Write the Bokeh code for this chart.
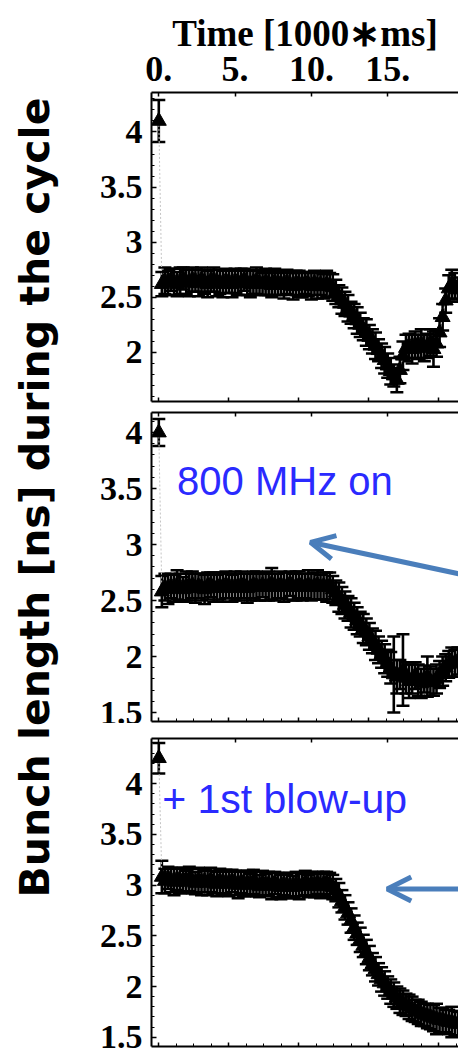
import math
from bokeh.plotting import figure
from bokeh.layouts import row, column
from bokeh.models import (ColumnDataSource, Range1d, LinearAxis, FixedTicker,
                          CustomJSTickFormatter, Whisker, TeeHead, Arrow, OpenHead, Label)
from bokeh.embed import file_html
from bokeh.resources import INLINE

# ---------------- data ----------------
time_s = [0.0,
          0.2, 0.4, 0.6, 0.8, 1.0, 1.2, 1.4, 1.6, 1.8, 2.0,
          2.2, 2.4, 2.6, 2.8, 3.0, 3.2, 3.4, 3.6, 3.8, 4.0,
          4.2, 4.4, 4.6, 4.8, 5.0, 5.2, 5.4, 5.6, 5.8, 6.0,
          6.2, 6.4, 6.6, 6.8, 7.0, 7.2, 7.4, 7.6, 7.8, 8.0,
          8.2, 8.4, 8.6, 8.8, 9.0, 9.2, 9.4, 9.6, 9.8, 10.0,
          10.2, 10.4, 10.6, 10.8, 11.0, 11.2, 11.4, 11.6, 11.8, 12.0,
          12.2, 12.4, 12.6, 12.8, 13.0, 13.2, 13.4, 13.6, 13.8, 14.0,
          14.2, 14.4, 14.6, 14.8, 15.0, 15.2, 15.4, 15.6, 15.8, 16.0,
          16.2, 16.4, 16.6, 16.8, 17.0, 17.2, 17.4, 17.6, 17.8, 18.0,
          18.2, 18.4, 18.6, 18.8, 19.0, 19.2, 19.4, 19.6]

# Panel 1: reference cycle
bunch_len_1 = [4.10,
               2.62, 2.65, 2.63, 2.66, 2.64, 2.62, 2.65, 2.67, 2.64, 2.63,
               2.66, 2.65, 2.63, 2.66, 2.64, 2.62, 2.65, 2.66, 2.63, 2.64,
               2.62, 2.65, 2.64, 2.62, 2.65, 2.63, 2.64, 2.66, 2.63, 2.62,
               2.64, 2.65, 2.63, 2.62, 2.64, 2.63, 2.61, 2.64, 2.62, 2.63,
               2.61, 2.64, 2.62, 2.60, 2.63, 2.62, 2.61, 2.63, 2.62, 2.60,
               2.63, 2.61, 2.62, 2.60, 2.62, 2.61, 2.59, 2.55, 2.51, 2.47,
               2.44, 2.40, 2.36, 2.33, 2.29, 2.25, 2.21, 2.18, 2.14, 2.10,
               2.06, 2.02, 1.97, 1.93, 1.88, 1.83, 1.79, 1.75, 1.84, 1.97,
               2.04, 2.06, 2.03, 2.07, 2.05, 2.08, 2.04, 2.06, 2.09, 2.03,
               2.08, 2.18, 2.32, 2.47, 2.58, 2.62, 2.60, 2.57]
err_1 = [0.19,
         0.11, 0.12, 0.11, 0.10, 0.12, 0.11, 0.12, 0.10, 0.11, 0.12,
         0.11, 0.10, 0.12, 0.11, 0.11, 0.12, 0.10, 0.11, 0.12, 0.11,
         0.12, 0.11, 0.10, 0.12, 0.11, 0.11, 0.12, 0.10, 0.11, 0.12,
         0.11, 0.12, 0.11, 0.10, 0.12, 0.11, 0.11, 0.12, 0.10, 0.11,
         0.12, 0.11, 0.10, 0.12, 0.11, 0.12, 0.11, 0.10, 0.11, 0.12,
         0.11, 0.12, 0.10, 0.11, 0.12, 0.11, 0.12, 0.11, 0.10, 0.12,
         0.11, 0.12, 0.10, 0.11, 0.12, 0.11, 0.10, 0.12, 0.11, 0.11,
         0.12, 0.10, 0.11, 0.12, 0.11, 0.12, 0.10, 0.11, 0.12, 0.13,
         0.12, 0.11, 0.13, 0.12, 0.11, 0.13, 0.12, 0.11, 0.12, 0.16,
         0.12, 0.13, 0.12, 0.11, 0.12, 0.13, 0.12, 0.11]

# Panel 2: 800 MHz on
bunch_len_2 = [4.00,
               2.58, 2.62, 2.60, 2.63, 2.61, 2.64, 2.62, 2.60, 2.63, 2.62,
               2.64, 2.61, 2.63, 2.62, 2.60, 2.63, 2.64, 2.62, 2.61, 2.63,
               2.62, 2.64, 2.63, 2.61, 2.63, 2.62, 2.64, 2.63, 2.61, 2.62,
               2.64, 2.63, 2.62, 2.64, 2.62, 2.63, 2.65, 2.62, 2.63, 2.64,
               2.62, 2.63, 2.65, 2.62, 2.63, 2.64, 2.62, 2.63, 2.64, 2.62,
               2.63, 2.64, 2.62, 2.63, 2.62, 2.63, 2.60, 2.57, 2.53, 2.50,
               2.46, 2.43, 2.39, 2.36, 2.32, 2.29, 2.25, 2.22, 2.18, 2.14,
               2.10, 2.06, 2.02, 1.98, 1.94, 1.90, 1.84, 1.82, 1.84, 1.88,
               1.81, 1.78, 1.80, 1.83, 1.79, 1.76, 1.80, 1.82, 1.78, 1.77,
               1.80, 1.84, 1.87, 1.90, 1.93, 1.95, 1.94, 1.96]
err_2 = [0.12,
         0.14, 0.12, 0.13, 0.11, 0.12, 0.13, 0.12, 0.11, 0.13, 0.12,
         0.12, 0.13, 0.11, 0.12, 0.13, 0.12, 0.11, 0.13, 0.12, 0.12,
         0.13, 0.12, 0.11, 0.12, 0.13, 0.12, 0.12, 0.11, 0.13, 0.12,
         0.12, 0.13, 0.12, 0.11, 0.12, 0.13, 0.14, 0.12, 0.11, 0.12,
         0.13, 0.12, 0.11, 0.12, 0.13, 0.12, 0.12, 0.11, 0.13, 0.12,
         0.12, 0.13, 0.11, 0.12, 0.13, 0.12, 0.12, 0.11, 0.13, 0.12,
         0.12, 0.11, 0.13, 0.12, 0.12, 0.11, 0.13, 0.12, 0.12, 0.11,
         0.13, 0.12, 0.12, 0.13, 0.12, 0.14, 0.34, 0.15, 0.13, 0.32,
         0.14, 0.15, 0.13, 0.12, 0.14, 0.13, 0.12, 0.18, 0.13, 0.12,
         0.13, 0.12, 0.13, 0.12, 0.12, 0.13, 0.12, 0.12]

# Panel 3: 800 MHz on + 1st blow-up
bunch_len_3 = [4.25,
               3.08, 3.04, 3.07, 3.05, 3.03, 3.06, 3.04, 3.05, 3.03, 3.06,
               3.04, 3.02, 3.05, 3.03, 3.04, 3.02, 3.05, 3.03, 3.01, 3.04,
               3.02, 3.03, 3.01, 3.04, 3.02, 3.00, 3.03, 3.01, 3.02, 3.00,
               3.03, 3.01, 2.99, 3.02, 3.00, 3.01, 2.99, 3.02, 3.00, 2.98,
               3.01, 2.99, 3.00, 2.98, 3.01, 2.99, 3.00, 3.02, 2.99, 3.01,
               3.00, 3.02, 2.99, 3.01, 3.02, 3.00, 2.98, 2.95, 2.90, 2.84,
               2.78, 2.72, 2.65, 2.58, 2.52, 2.46, 2.40, 2.34, 2.28, 2.22,
               2.17, 2.12, 2.07, 2.03, 1.99, 1.95, 1.92, 1.89, 1.86, 1.84,
               1.82, 1.80, 1.78, 1.76, 1.75, 1.73, 1.72, 1.71, 1.70, 1.69,
               1.68, 1.67, 1.67, 1.66, 1.65, 1.65, 1.64, 1.63]
err_3 = [0.15,
         0.16, 0.12, 0.11, 0.12, 0.13, 0.11, 0.12, 0.12, 0.11, 0.12,
         0.12, 0.11, 0.12, 0.13, 0.11, 0.12, 0.12, 0.11, 0.12, 0.12,
         0.11, 0.12, 0.12, 0.11, 0.12, 0.13, 0.11, 0.12, 0.12, 0.11,
         0.12, 0.12, 0.11, 0.12, 0.11, 0.12, 0.13, 0.11, 0.12, 0.12,
         0.11, 0.12, 0.12, 0.11, 0.12, 0.13, 0.11, 0.12, 0.11, 0.12,
         0.12, 0.11, 0.12, 0.12, 0.11, 0.12, 0.12, 0.11, 0.12, 0.11,
         0.12, 0.11, 0.12, 0.12, 0.11, 0.12, 0.11, 0.12, 0.12, 0.11,
         0.12, 0.11, 0.12, 0.12, 0.11, 0.12, 0.12, 0.11, 0.12, 0.12,
         0.11, 0.12, 0.12, 0.11, 0.12, 0.12, 0.11, 0.12, 0.12, 0.13,
         0.15, 0.12, 0.12, 0.11, 0.12, 0.15, 0.12, 0.12]

top_ticks = [0, 5, 10, 15]
bottom_ticks = [0, 4.587, 9.174, 13.761, 18.348]
bottom_minor_ticks = [round(i * 1.1468, 3) for i in range(18)]
y_ticks = [1.5, 2, 2.5, 3, 3.5, 4]
y_minor_ticks = [round(1.4 + 0.1 * i, 1) for i in range(31)]

x_label = "Time [1000\u2217ms]"
y_label = "Bunch length [ns] during the cycle"
note_2 = "800 MHz on"
note_3 = "+ 1st blow-up"

# ---------------- style ----------------
SERIF = "Liberation Serif"
BLUE_TXT = "#2a2aff"
ARROW_C = "#4a7ebb"
PANEL_W = 398
LEFT_W = 60
X_RANGE = (-0.478, 19.64)


def style_axis(ax, ticker):
    ax.ticker = ticker
    ax.axis_line_color = "black"
    ax.axis_line_width = 2
    ax.major_tick_line_color = "black"
    ax.minor_tick_line_color = "black"
    ax.major_tick_line_width = 1.5
    ax.minor_tick_line_width = 1
    ax.major_tick_out = 0
    ax.minor_tick_out = 0
    ax.major_tick_in = 5
    ax.minor_tick_in = 3


def hide_labels(ax):
    ax.formatter = CustomJSTickFormatter(code="return '';")
    ax.major_label_text_font_size = "1px"
    ax.major_label_standoff = 0
    ax.axis_label = None


def make_panel(vals, errs, y0, y1, h, btop, bbot, top_labels, bottom_minor):
    src = ColumnDataSource(dict(
        t=time_s, v=vals,
        lo=[a - b for a, b in zip(vals, errs)],
        hi=[a + b for a, b in zip(vals, errs)]))
    p = figure(width=PANEL_W, height=h, x_range=Range1d(*X_RANGE),
               y_range=Range1d(y0, y1), x_axis_location="above",
               toolbar_location=None, output_backend="svg",
               min_border_left=151 - LEFT_W, min_border_right=0,
               min_border_top=btop, min_border_bottom=bbot)
    p.outline_line_color = None
    p.grid.visible = False
    p.background_fill_color = "white"
    p.border_fill_color = "white"

    top = p.xaxis[0]
    style_axis(top, FixedTicker(ticks=top_ticks, minor_ticks=[]))
    top.major_tick_in = 4
    if top_labels:
        top.formatter = CustomJSTickFormatter(code="return tick.toFixed(0) + '.';")
        top.major_label_text_font = SERIF
        top.major_label_text_font_style = "bold"
        top.major_label_text_font_size = "36px"
        top.major_label_text_color = "black"
        top.major_label_standoff = 12
        top.axis_label = x_label
        top.axis_label_text_font = SERIF
        top.axis_label_text_font_style = "bold"
        top.axis_label_text_font_size = "37px"
        top.axis_label_text_color = "black"
        top.axis_label_standoff = 0
    else:
        hide_labels(top)

    bottom = LinearAxis()
    style_axis(bottom, FixedTicker(ticks=bottom_ticks,
                                   minor_ticks=bottom_minor_ticks if bottom_minor else []))
    bottom.major_tick_in = 4
    hide_labels(bottom)
    p.add_layout(bottom, "below")

    left = p.yaxis[0]
    style_axis(left, FixedTicker(ticks=y_ticks, minor_ticks=y_minor_ticks))
    left.formatter = CustomJSTickFormatter(code="return String(tick);")
    left.major_label_text_font = SERIF
    left.major_label_text_font_style = "bold"
    left.major_label_text_font_size = "34px"
    left.major_label_text_color = "black"
    left.major_label_standoff = 9

    p.line("t", "v", source=src, line_color="#c4c4c4", line_width=1, line_dash="2 2")
    p.add_layout(Whisker(source=src, base="t", lower="lo", upper="hi",
                         line_color="black", line_width=2.6,
                         upper_head=TeeHead(size=13, line_color="black", line_width=2.5),
                         lower_head=TeeHead(size=13, line_color="black", line_width=2.5)))
    p.scatter("t", "v", source=src, marker="triangle", size=15,
              fill_color="black", line_color="black")
    return p


p1 = make_panel(bunch_len_1, err_1, 1.555, 4.358, 406, 92, 5, True, False)
p2 = make_panel(bunch_len_2, err_2, 1.42, 4.179, 317, 6, 2, False, True)
p3 = make_panel(bunch_len_3, err_3, 1.409, 4.444, 327, 15, 4, False, True)

p2.add_layout(Label(x=1.2, y=3.57, text=note_2, text_color=BLUE_TXT,
                    text_font="Liberation Sans", text_font_size="40px",
                    text_align="left", text_baseline="alphabetic"))
p2.add_layout(Arrow(end=OpenHead(size=24, line_color=ARROW_C, line_width=5),
                    x_start=21.0, y_start=2.70, x_end=9.94, y_end=3.02,
                    line_color=ARROW_C, line_width=5))

p3.add_layout(Label(x=0.22, y=3.85, text=note_3, text_color=BLUE_TXT,
                    text_font="Liberation Sans", text_font_size="41px",
                    text_align="left", text_baseline="alphabetic"))
p3.add_layout(Arrow(end=OpenHead(size=24, line_color=ARROW_C, line_width=5),
                    x_start=21.0, y_start=2.96, x_end=14.97, y_end=2.96,
                    line_color=ARROW_C, line_width=5))

lab = figure(width=LEFT_W, height=1050, x_range=Range1d(0, LEFT_W), y_range=Range1d(0, 1050),
             toolbar_location=None, output_backend="svg", min_border=0,
             x_axis_type=None, y_axis_type=None)
lab.outline_line_color = None
lab.grid.visible = False
lab.add_layout(Label(x=34, y=553, text=y_label, angle=math.pi / 2,
                     text_font="DejaVu Sans", text_font_style="bold",
                     text_font_size="41px", text_color="black",
                     text_align="center", text_baseline="middle"))

layout = row(lab, column(p1, p2, p3))
open("out.html", "w").write(file_html(layout, INLINE))
